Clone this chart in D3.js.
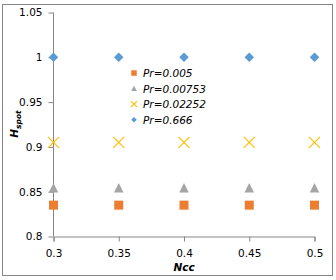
<!DOCTYPE html>
<html>
<head>
<meta charset="utf-8">
<script src="https://cdn.jsdelivr.net/npm/d3@7"></script>
<style>
  body { margin: 0; background: #fff; }
  svg text { font-family: "DejaVu Sans", Verdana, sans-serif; }
</style>
</head>
<body>
<div id="chart"></div>
<script>
// chart values
const nccValues = [0.3, 0.35, 0.4, 0.45, 0.5];
const prLabels = ["Pr=0.005", "Pr=0.00753", "Pr=0.02252", "Pr=0.666"];
const hPr0005 = [0.835, 0.835, 0.835, 0.835, 0.835];
const hPr00753 = [0.854, 0.854, 0.854, 0.854, 0.854];
const hPr02252 = [0.905, 0.905, 0.905, 0.905, 0.905];
const hPr0666 = [1, 1, 1, 1, 1];
const xTicks = [0.3, 0.35, 0.4, 0.45, 0.5];
const yTicks = [0.8, 0.85, 0.9, 0.95, 1, 1.05];

const width = 336, height = 280;
const axisColor = "#868686";

const seriesList = [
  { name: prLabels[0], values: hPr0005, color: "#ED7D31", shape: "square" },
  { name: prLabels[1], values: hPr00753, color: "#A5A5A5", shape: "triangle" },
  { name: prLabels[2], values: hPr02252, color: "#FFC000", shape: "cross" },
  { name: prLabels[3], values: hPr0666, color: "#5B9BD5", shape: "diamond" }
];

const svg = d3.select("#chart").append("svg")
  .attr("width", width)
  .attr("height", height);

// chart area border
svg.append("rect")
  .attr("x", 2.5).attr("y", 4.5)
  .attr("width", 330).attr("height", 271)
  .attr("fill", "#fff")
  .attr("stroke", axisColor);

const x = d3.scaleLinear().domain([0.3, 0.5]).range([53.5, 314.5]);
const y = d3.scaleLinear().domain([0.8, 1.05]).range([236.5, 12.5]);

// y axis
const yAxis = svg.append("g")
  .attr("transform", "translate(53.5,0)")
  .call(d3.axisLeft(y).tickValues(yTicks).tickSize(5).tickPadding(5)
    .tickFormat(d => d3.format("")(+d.toFixed(2))));
// x axis
const xAxis = svg.append("g")
  .attr("transform", "translate(0,236.5)")
  .call(d3.axisBottom(x).tickValues(xTicks).tickSize(5).tickPadding(8)
    .tickFormat(d => d3.format("")(+d.toFixed(2))));

[xAxis, yAxis].forEach(g => {
  g.selectAll("path.domain").attr("stroke", axisColor);
  g.selectAll(".tick line").attr("stroke", axisColor);
  g.selectAll("text").attr("fill", "#000").style("font-size", "10.5px");
});
yAxis.selectAll(".domain").attr("d", "M-0,12.5V236.5");
yAxis.selectAll("text").attr("dx", "-1");

// symbol helper
function drawMarker(g, shape, color, s) {
  if (shape === "square") {
    g.append("rect").attr("x", -s / 2).attr("y", -s / 2)
      .attr("width", s).attr("height", s).attr("fill", color);
  } else if (shape === "triangle") {
    g.append("path")
      .attr("d", `M0,${-s * 0.55}L${s / 2},${s * 0.45}L${-s / 2},${s * 0.45}Z`)
      .attr("fill", color);
  } else if (shape === "diamond") {
    g.append("path")
      .attr("d", `M0,${-s / 2}L${s / 2},0L0,${s / 2}L${-s / 2},0Z`)
      .attr("fill", color);
  } else if (shape === "cross") {
    const h = s / 2;
    g.append("path")
      .attr("d", `M${-h},${-h}L${h},${h}M${-h},${h}L${h},${-h}`)
      .attr("stroke", color).attr("stroke-width", 1.2).attr("fill", "none");
  }
}

const markerSize = { square: 9, triangle: 9.5, cross: 11, diamond: 9.5 };

seriesList.forEach(s => {
  svg.append("g").selectAll("g")
    .data(s.values.map((v, i) => [nccValues[i], v]))
    .join("g")
    .attr("transform", d => `translate(${x(d[0])},${y(d[1])})`)
    .each(function () { drawMarker(d3.select(this), s.shape, s.color, markerSize[s.shape]); });
});

// legend
const legend = svg.append("g").attr("transform", "translate(134,73)");
seriesList.forEach((s, i) => {
  const row = legend.append("g").attr("transform", `translate(0,${i * 15.6})`);
  drawMarker(row, s.shape, s.color, s.shape === "cross" ? 6 : 5.5);
  row.append("text")
    .attr("x", 9).attr("y", 4)
    .style("font-size", "10.5px")
    .style("font-style", "italic")
    .text(s.name);
});

// axis titles
svg.append("text")
  .attr("x", 184).attr("y", 271)
  .attr("text-anchor", "middle")
  .style("font-size", "10.5px").style("font-weight", "bold").style("font-style", "italic")
  .text("Ncc");

const yTitle = svg.append("text")
  .attr("transform", "translate(18,124) rotate(-90)")
  .attr("text-anchor", "middle")
  .style("font-weight", "bold").style("font-style", "italic");
yTitle.append("tspan").style("font-size", "10.5px").text("H");
yTitle.append("tspan").style("font-size", "7.5px").attr("dy", 3).text("spot");
</script>
</body>
</html>
